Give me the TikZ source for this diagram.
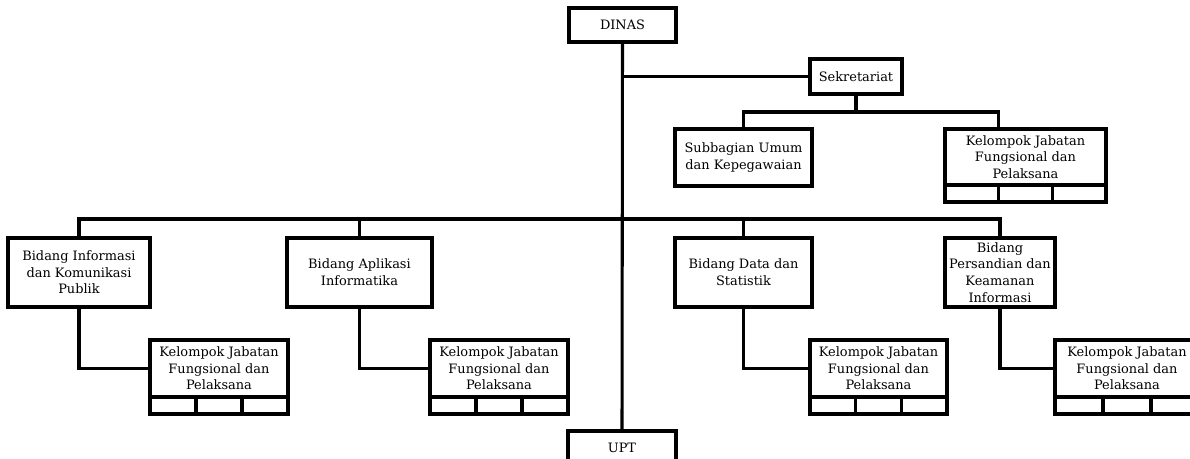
\documentclass[tikz,border=0pt]{standalone}
\usepackage{fontspec}
\setmainfont{DejaVu Serif}
\usetikzlibrary{calc}
\begin{document}
\begin{tikzpicture}[x=0.75pt,y=-0.75pt,
  box/.style={draw,line width=2.3pt,rectangle,inner sep=0pt,outer sep=0pt,align=center,
    font=\fontsize{9.7}{12.5}\selectfont},
  conn/.style={line width=2.3pt,line join=miter},
]
\useasboundingbox (0,0) rectangle (1190,459);
\newcommand\kjcells[1]{%
  \draw[conn] (#1.south west) -- ++(0,17) -| (#1.south east);
  \draw[conn] ($(#1.south west)!1/3!(#1.south east)$) -- ++(0,17);
  \draw[conn] ($(#1.south west)!2/3!(#1.south east)$) -- ++(0,17);}
% top
\node[box,minimum width=107*0.75pt,minimum height=34*0.75pt] (dinas) at (622.5,25) {DINAS};
\node[box,minimum width=92*0.75pt,minimum height=35*0.75pt] (sek) at (856,76.5) {Sekretariat};
\node[box,minimum width=137*0.75pt,minimum height=57*0.75pt] (sub) at (743.5,157.5) {Subbagian Umum\\dan Kepegawaian};
\node[box,minimum width=161*0.75pt,minimum height=56*0.75pt] (kjt) at (1025.5,157) {Kelompok Jabatan\\Fungsional dan\\Pelaksana};
\kjcells{kjt}
% bidang
\node[box,minimum width=142*0.75pt,minimum height=69*0.75pt] (bi) at (79,272.5) {Bidang Informasi\\dan Komunikasi\\Publik};
\node[box,minimum width=145*0.75pt,minimum height=69*0.75pt] (ba) at (359.5,272.5) {Bidang Aplikasi\\Informatika};
\node[box,minimum width=137*0.75pt,minimum height=69*0.75pt] (bd) at (743.5,272.5) {Bidang Data dan\\Statistik};
\node[box,minimum width=110*0.75pt,minimum height=69*0.75pt] (bp) at (1000,272.5) {Bidang\\Persandian dan\\Keamanan\\Informasi};
% kelompok
\node[box,minimum width=138*0.75pt,minimum height=57*0.75pt] (kj1) at (219,368.5) {Kelompok Jabatan\\Fungsional dan\\Pelaksana};
\node[box,minimum width=138*0.75pt,minimum height=57*0.75pt] (kj2) at (499,368.5) {Kelompok Jabatan\\Fungsional dan\\Pelaksana};
\node[box,minimum width=137*0.75pt,minimum height=57*0.75pt] (kj3) at (878.5,368.5) {Kelompok Jabatan\\Fungsional dan\\Pelaksana};
\node[box,minimum width=144*0.75pt,minimum height=57*0.75pt] (kj4) at (1127,368.5) {Kelompok Jabatan\\Fungsional dan\\Pelaksana};
\kjcells{kj1}\kjcells{kj2}\kjcells{kj3}\kjcells{kj4}
\node[box,minimum width=108*0.75pt,minimum height=34*0.75pt] (upt) at (622,448) {UPT};
% connectors
\draw[conn] (dinas.south) -- (upt.north);
\draw[conn] (dinas.south |- sek.west) -- (sek.west);
\coordinate (bus1) at ($(sub.north)+(0,-17)$);
\coordinate (kjs) at ($(kjt.north west)!1/3!(kjt.north east)$);
\draw[conn] (sek.south) -- (sek.south |- bus1);
\draw[conn] (sub.north) -- (bus1) -| (kjs);
\coordinate (bus2) at ($(bi.north)+(0,-19)$);
\draw[conn] (bi.north) -- (bi.north |- bus2) -- (bp.north |- bus2) -- (bp.north);
\draw[conn] (ba.north) -- (ba.north |- bus2);
\draw[conn] (bd.north) -- (bd.north |- bus2);
\draw[conn] (bi.south) |- (kj1.west);
\draw[conn] (ba.south) |- (kj2.west);
\draw[conn] (bd.south) |- (kj3.west);
\draw[conn] (bp.south) |- (kj4.west);
\end{tikzpicture}
\end{document}
